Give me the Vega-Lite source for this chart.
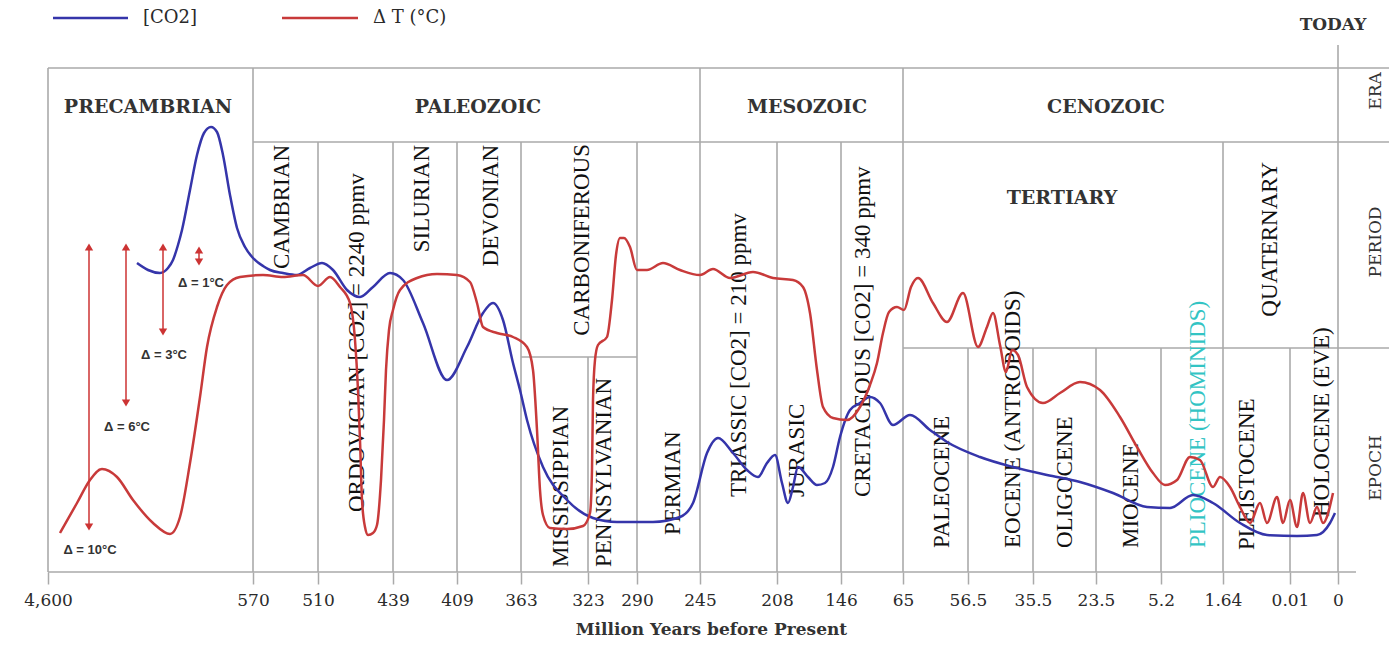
{
"$schema": "https://vega.github.io/schema/vega-lite/v6.json",
"width": 1389, "height": 572,
"autosize": {"type": "none"},
"padding": {"left": 0, "top": 0, "right": 0, "bottom": 83},
"background": "white",
"config": {"view": {"stroke": null}},
"datasets": {
"grid": [
{"t":0,"v":504,"t2":1341,"v2":504},{"t":205,"v":430,"t2":1341,"v2":430},{"t":473,"v":215,"t2":589,"v2":215},{"t":855,"v":224,"t2":1341,"v2":224},{"t":0,"v":0,"t2":1308,"v2":0},
{"t":0,"v":0,"t2":0,"v2":504},{"t":205,"v":0,"t2":205,"v2":504},{"t":270,"v":0,"t2":270,"v2":430},{"t":345,"v":0,"t2":345,"v2":430},{"t":409,"v":0,"t2":409,"v2":430},{"t":473,"v":0,"t2":473,"v2":430},{"t":540,"v":0,"t2":540,"v2":215},{"t":589,"v":0,"t2":589,"v2":430},{"t":652,"v":0,"t2":652,"v2":504},{"t":729,"v":0,"t2":729,"v2":430},{"t":793,"v":0,"t2":793,"v2":430},{"t":855,"v":0,"t2":855,"v2":504},{"t":920,"v":0,"t2":920,"v2":224},{"t":985,"v":0,"t2":985,"v2":224},{"t":1048,"v":0,"t2":1048,"v2":224},{"t":1113,"v":0,"t2":1113,"v2":224},{"t":1175,"v":0,"t2":1175,"v2":430},{"t":1242,"v":0,"t2":1242,"v2":224},{"t":1290,"v":0,"t2":1290,"v2":527}
],
"legend": [
{"s":"CO2","t":5,"t2":80,"v":554,"v2":554},{"s":"dT","t":234,"t2":310,"v":554,"v2":554}
],
"curves": [
{"s":"CO2","t":89,"v":309},{"s":"CO2","t":100,"v":302},{"s":"CO2","t":112,"v":299},{"s":"CO2","t":120,"v":304},{"s":"CO2","t":125,"v":312},{"s":"CO2","t":130,"v":327},{"s":"CO2","t":134,"v":342},{"s":"CO2","t":142,"v":382},{"s":"CO2","t":149,"v":417},{"s":"CO2","t":156,"v":439},{"s":"CO2","t":163,"v":445},{"s":"CO2","t":169,"v":440},{"s":"CO2","t":175,"v":417},{"s":"CO2","t":182,"v":377},{"s":"CO2","t":189,"v":344},{"s":"CO2","t":197,"v":325},{"s":"CO2","t":205,"v":314},{"s":"CO2","t":215,"v":306},{"s":"CO2","t":222,"v":302},{"s":"CO2","t":235,"v":299},{"s":"CO2","t":249,"v":297},{"s":"CO2","t":262,"v":304},{"s":"CO2","t":274,"v":309},{"s":"CO2","t":285,"v":302},{"s":"CO2","t":299,"v":282},{"s":"CO2","t":312,"v":275},{"s":"CO2","t":325,"v":285},{"s":"CO2","t":342,"v":299},{"s":"CO2","t":355,"v":292},{"s":"CO2","t":375,"v":249},{"s":"CO2","t":399,"v":192},{"s":"CO2","t":419,"v":225},{"s":"CO2","t":435,"v":259},{"s":"CO2","t":445,"v":269},{"s":"CO2","t":455,"v":252},{"s":"CO2","t":465,"v":209},{"s":"CO2","t":472,"v":182},{"s":"CO2","t":479,"v":152},{"s":"CO2","t":495,"v":105},{"s":"CO2","t":519,"v":72},{"s":"CO2","t":545,"v":54},{"s":"CO2","t":569,"v":50},{"s":"CO2","t":605,"v":50},{"s":"CO2","t":632,"v":55},{"s":"CO2","t":645,"v":69},{"s":"CO2","t":659,"v":119},{"s":"CO2","t":670,"v":134},{"s":"CO2","t":685,"v":119},{"s":"CO2","t":699,"v":102},{"s":"CO2","t":710,"v":95},{"s":"CO2","t":719,"v":109},{"s":"CO2","t":727,"v":117},{"s":"CO2","t":734,"v":89},{"s":"CO2","t":740,"v":69},{"s":"CO2","t":745,"v":85},{"s":"CO2","t":750,"v":105},{"s":"CO2","t":760,"v":95},{"s":"CO2","t":769,"v":87},{"s":"CO2","t":777,"v":89},{"s":"CO2","t":785,"v":105},{"s":"CO2","t":792,"v":135},{"s":"CO2","t":802,"v":162},{"s":"CO2","t":812,"v":169},{"s":"CO2","t":822,"v":175},{"s":"CO2","t":832,"v":169},{"s":"CO2","t":845,"v":147},{"s":"CO2","t":862,"v":157},{"s":"CO2","t":882,"v":142},{"s":"CO2","t":899,"v":130},{"s":"CO2","t":932,"v":115},{"s":"CO2","t":965,"v":105},{"s":"CO2","t":999,"v":97},{"s":"CO2","t":1032,"v":90},{"s":"CO2","t":1065,"v":79},{"s":"CO2","t":1099,"v":65},{"s":"CO2","t":1122,"v":64},{"s":"CO2","t":1145,"v":77},{"s":"CO2","t":1165,"v":69},{"s":"CO2","t":1192,"v":49},{"s":"CO2","t":1219,"v":37},{"s":"CO2","t":1249,"v":36},{"s":"CO2","t":1269,"v":37},{"s":"CO2","t":1282,"v":49},{"s":"CO2","t":1287,"v":59},
{"s":"dT","t":12,"v":39},{"s":"dT","t":29,"v":69},{"s":"dT","t":42,"v":92},{"s":"dT","t":54,"v":103},{"s":"dT","t":69,"v":95},{"s":"dT","t":85,"v":72},{"s":"dT","t":105,"v":49},{"s":"dT","t":122,"v":38},{"s":"dT","t":132,"v":55},{"s":"dT","t":142,"v":109},{"s":"dT","t":152,"v":175},{"s":"dT","t":159,"v":225},{"s":"dT","t":169,"v":265},{"s":"dT","t":179,"v":287},{"s":"dT","t":192,"v":295},{"s":"dT","t":215,"v":297},{"s":"dT","t":235,"v":295},{"s":"dT","t":255,"v":297},{"s":"dT","t":270,"v":286},{"s":"dT","t":282,"v":295},{"s":"dT","t":292,"v":285},{"s":"dT","t":302,"v":269},{"s":"dT","t":307,"v":232},{"s":"dT","t":310,"v":182},{"s":"dT","t":312,"v":132},{"s":"dT","t":314,"v":72},{"s":"dT","t":317,"v":45},{"s":"dT","t":320,"v":37},{"s":"dT","t":325,"v":39},{"s":"dT","t":329,"v":47},{"s":"dT","t":333,"v":92},{"s":"dT","t":336,"v":152},{"s":"dT","t":338,"v":202},{"s":"dT","t":341,"v":242},{"s":"dT","t":345,"v":262},{"s":"dT","t":352,"v":282},{"s":"dT","t":369,"v":294},{"s":"dT","t":389,"v":298},{"s":"dT","t":409,"v":297},{"s":"dT","t":422,"v":290},{"s":"dT","t":429,"v":269},{"s":"dT","t":435,"v":245},{"s":"dT","t":449,"v":239},{"s":"dT","t":465,"v":235},{"s":"dT","t":479,"v":225},{"s":"dT","t":485,"v":202},{"s":"dT","t":489,"v":142},{"s":"dT","t":492,"v":82},{"s":"dT","t":495,"v":57},{"s":"dT","t":502,"v":44},{"s":"dT","t":519,"v":43},{"s":"dT","t":535,"v":46},{"s":"dT","t":542,"v":59},{"s":"dT","t":544,"v":102},{"s":"dT","t":545,"v":172},{"s":"dT","t":547,"v":212},{"s":"dT","t":550,"v":227},{"s":"dT","t":559,"v":235},{"s":"dT","t":564,"v":272},{"s":"dT","t":568,"v":317},{"s":"dT","t":572,"v":334},{"s":"dT","t":576,"v":334},{"s":"dT","t":582,"v":325},{"s":"dT","t":589,"v":302},{"s":"dT","t":599,"v":302},{"s":"dT","t":615,"v":309},{"s":"dT","t":632,"v":302},{"s":"dT","t":652,"v":297},{"s":"dT","t":665,"v":303},{"s":"dT","t":682,"v":294},{"s":"dT","t":705,"v":300},{"s":"dT","t":725,"v":294},{"s":"dT","t":745,"v":292},{"s":"dT","t":755,"v":285},{"s":"dT","t":762,"v":259},{"s":"dT","t":769,"v":202},{"s":"dT","t":775,"v":165},{"s":"dT","t":785,"v":154},{"s":"dT","t":799,"v":152},{"s":"dT","t":812,"v":165},{"s":"dT","t":822,"v":187},{"s":"dT","t":829,"v":209},{"s":"dT","t":835,"v":239},{"s":"dT","t":841,"v":260},{"s":"dT","t":849,"v":265},{"s":"dT","t":856,"v":262},{"s":"dT","t":863,"v":285},{"s":"dT","t":870,"v":294},{"s":"dT","t":885,"v":269},{"s":"dT","t":899,"v":250},{"s":"dT","t":915,"v":279},{"s":"dT","t":930,"v":225},{"s":"dT","t":939,"v":245},{"s":"dT","t":945,"v":259},{"s":"dT","t":952,"v":227},{"s":"dT","t":958,"v":200},{"s":"dT","t":964,"v":222},{"s":"dT","t":970,"v":217},{"s":"dT","t":979,"v":185},{"s":"dT","t":995,"v":169},{"s":"dT","t":1012,"v":179},{"s":"dT","t":1032,"v":190},{"s":"dT","t":1052,"v":182},{"s":"dT","t":1072,"v":155},{"s":"dT","t":1089,"v":125},{"s":"dT","t":1105,"v":99},{"s":"dT","t":1117,"v":87},{"s":"dT","t":1129,"v":92},{"s":"dT","t":1142,"v":115},{"s":"dT","t":1152,"v":112},{"s":"dT","t":1165,"v":85},{"s":"dT","t":1172,"v":95},{"s":"dT","t":1182,"v":85},{"s":"dT","t":1192,"v":65},{"s":"dT","t":1202,"v":49},{"s":"dT","t":1212,"v":69},{"s":"dT","t":1219,"v":49},{"s":"dT","t":1229,"v":75},{"s":"dT","t":1235,"v":49},{"s":"dT","t":1242,"v":72},{"s":"dT","t":1249,"v":45},{"s":"dT","t":1255,"v":79},{"s":"dT","t":1262,"v":49},{"s":"dT","t":1269,"v":65},{"s":"dT","t":1275,"v":49},{"s":"dT","t":1285,"v":79}
],
"arrows": [
{"t":41,"v":45,"v2":325},{"t":78,"v":169,"v2":325},{"t":115,"v":240,"v2":325},{"t":151,"v":310,"v2":322}
],
"heads": [
{"t":41,"v":325,"dir":"up"},{"t":41,"v":45,"dir":"down"},{"t":78,"v":325,"dir":"up"},{"t":78,"v":169,"dir":"down"},{"t":115,"v":325,"dir":"up"},{"t":115,"v":240,"dir":"down"},{"t":151,"v":322,"dir":"up"},{"t":151,"v":310,"dir":"down"}
],
"labels": [
{"kind":"era","label":"PRECAMBRIAN","t":100,"v":465},
{"kind":"era","label":"PALEOZOIC","t":430,"v":465},
{"kind":"era","label":"MESOZOIC","t":759,"v":465},
{"kind":"era","label":"CENOZOIC","t":1058,"v":465},
{"kind":"era","label":"TERTIARY","t":1014,"v":374},
{"kind":"side","label":"ERA","t":1328,"v":481},
{"kind":"side","label":"PERIOD","t":1328,"v":330},
{"kind":"side","label":"EPOCH","t":1328,"v":104},
{"kind":"legend","label":"[CO2]","t":95,"v":554},
{"kind":"legend","label":"Δ T (°C)","t":325,"v":554},
{"kind":"today","label":"TODAY","t":1285,"v":547},
{"kind":"delta","label":"Δ = 1°C","t":153,"v":289},
{"kind":"delta","label":"Δ = 3°C","t":116,"v":217},
{"kind":"delta","label":"Δ = 6°C","t":79,"v":145},
{"kind":"delta","label":"Δ = 10°C","t":42,"v":22},
{"kind":"top","label":"CAMBRIAN","t":234,"v":427},
{"kind":"top","label":"SILURIAN","t":374,"v":427},
{"kind":"top","label":"DEVONIAN","t":443,"v":427},
{"kind":"top","label":"CARBONIFEROUS","t":534,"v":428},
{"kind":"top","label":"QUATERNARY","t":1222,"v":410},
{"kind":"bottom","label":"ORDOVICIAN [CO2] = 2240 ppmv","t":309,"v":60},
{"kind":"bottom","label":"MISSISSIPPIAN","t":513,"v":5},
{"kind":"bottom","label":"PENNSYLVANIAN","t":556,"v":5},
{"kind":"bottom","label":"PERMIAN","t":625,"v":37},
{"kind":"bottom","label":"TRIASSIC [CO2] = 210 ppmv","t":691,"v":75},
{"kind":"bottom","label":"JURASIC","t":749,"v":75},
{"kind":"bottom","label":"CRETACEOUS [CO2] = 340 ppmv","t":815,"v":75},
{"kind":"bottom","label":"PALEOCENE","t":894,"v":24},
{"kind":"bottom","label":"EOCENE (ANTROPOIDS)","t":965,"v":24},
{"kind":"bottom","label":"OLIGOCENE","t":1017,"v":24},
{"kind":"bottom","label":"MIOCENE","t":1083,"v":24},
{"kind":"bottom","label":"PLIOCENE (HOMINIDS)","t":1150,"v":24},
{"kind":"bottom","label":"PLEISTOCENE","t":1199,"v":22},
{"kind":"bottom","label":"HOLOCENE (EVE)","t":1274,"v":55}
]
},
"encoding": {
"x": {"field": "t", "type": "quantitative", "scale": {"domain": [-48, 1341], "nice": false, "zero": false},
 "axis": {"values": [0,205,270,345,409,473,540,589,652,729,793,855,920,985,1048,1113,1175,1242,1290],
  "labelExpr": "['4,600','570','510','439','409','363','323','290','245','208','146','65','56.5','35.5','23.5','5.2','1.64','0.01','0'][indexof([0,205,270,345,409,473,540,589,652,729,793,855,920,985,1048,1113,1175,1242,1290], datum.value)]",
  "title": "Million Years before Present", "titleX": 711,
  "domain": false, "grid": false, "ticks": true, "tickSize": 12, "tickColor": "#aaaaaa", "tickWidth": 1.5,
  "labelFont": "DejaVu Serif", "labelFontSize": 17, "labelColor": "#2a2a2a", "labelPadding": 8,
  "labelOverlap": false, "labelFlush": false, "labelBound": false,
  "titleFont": "DejaVu Serif", "titleFontSize": 17, "titleFontWeight": "bold", "titleColor": "#333333", "titlePadding": 13}},
"y": {"field": "v", "type": "quantitative", "scale": {"domain": [0, 572], "nice": false, "zero": false}, "axis": null}
},
"layer": [
{"data": {"name": "grid"}, "mark": {"type": "rule", "color": "#aaaaaa", "strokeWidth": 1.6},
 "encoding": {"x2": {"field": "t2"}, "y2": {"field": "v2"}}},
{"data": {"name": "labels"}, "transform": [{"filter": "datum.kind === 'era'"}],
 "mark": {"type": "text", "font": "DejaVu Serif", "fontSize": 19, "fontWeight": "bold", "color": "#333333", "align": "center", "baseline": "middle"},
 "encoding": {"text": {"field": "label"}}},
{"data": {"name": "labels"}, "transform": [{"filter": "datum.kind === 'side'"}],
 "mark": {"type": "text", "font": "DejaVu Serif", "fontSize": 17, "color": "#333333", "align": "center", "baseline": "middle", "angle": 270},
 "encoding": {"text": {"field": "label"}}},
{"data": {"name": "labels"}, "transform": [{"filter": "datum.kind === 'legend'"}],
 "mark": {"type": "text", "font": "DejaVu Serif", "fontSize": 18, "color": "#2a2a2a", "align": "left", "baseline": "middle"},
 "encoding": {"text": {"field": "label"}}},
{"data": {"name": "labels"}, "transform": [{"filter": "datum.kind === 'today'"}],
 "mark": {"type": "text", "font": "DejaVu Serif", "fontSize": 17, "fontWeight": "bold", "color": "#333333", "align": "center", "baseline": "middle"},
 "encoding": {"text": {"field": "label"}}},
{"data": {"name": "labels"}, "transform": [{"filter": "datum.kind === 'top'"}],
 "mark": {"type": "text", "font": "Liberation Serif", "fontSize": 23, "color": "#111111", "align": "right", "baseline": "middle", "angle": 270},
 "encoding": {"text": {"field": "label"}}},
{"data": {"name": "labels"}, "transform": [{"filter": "datum.kind === 'bottom'"}],
 "mark": {"type": "text", "font": "Liberation Serif", "fontSize": 23, "align": "left", "baseline": "middle", "angle": 270},
 "encoding": {"text": {"field": "label"}, "color": {"condition": {"test": "datum.label === 'PLIOCENE (HOMINIDS)'", "value": "#33c4c4"}, "value": "#111111"}}},
{"data": {"name": "legend"}, "mark": {"type": "rule", "strokeWidth": 2.5},
 "encoding": {"x2": {"field": "t2"}, "y2": {"field": "v2"}, "color": {"field": "s", "type": "nominal", "scale": {"domain": ["CO2", "dT"], "range": ["#3535aa", "#c83a3a"]}, "legend": null}}},
{"data": {"name": "curves"}, "mark": {"type": "line", "interpolate": "monotone", "strokeWidth": 2.5},
 "encoding": {"color": {"field": "s", "type": "nominal", "scale": {"domain": ["CO2", "dT"], "range": ["#3535aa", "#c83a3a"]}, "legend": null}}},
{"data": {"name": "arrows"}, "mark": {"type": "rule", "color": "#cc3333", "strokeWidth": 1.5},
 "encoding": {"y2": {"field": "v2"}}},
{"data": {"name": "heads"}, "mark": {"type": "point", "filled": true, "opacity": 1, "color": "#cc3333", "size": 70},
 "encoding": {"shape": {"field": "dir", "type": "nominal", "scale": {"domain": ["up", "down"], "range": ["triangle-up", "triangle-down"]}, "legend": null}}},
{"data": {"name": "labels"}, "transform": [{"filter": "datum.kind === 'delta'"}],
 "mark": {"type": "text", "font": "Liberation Sans", "fontSize": 13, "fontWeight": "bold", "color": "#333333", "align": "center", "baseline": "middle"},
 "encoding": {"text": {"field": "label"}}}
]
}
